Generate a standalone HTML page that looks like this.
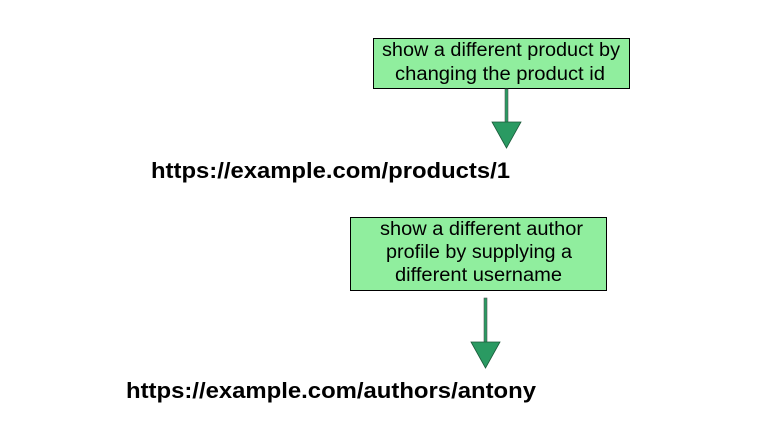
<!DOCTYPE html>
<html><head><style>
body{margin:0;width:773px;height:427px;background:#fff;overflow:hidden}
svg{display:block}
text{font-family:"Liberation Sans",sans-serif}
</style></head><body>
<svg width="773" height="427" viewBox="0 0 773 427">
<rect x="373.5" y="38.5" width="256" height="50" fill="#90ee9e" stroke="#000" stroke-width="1"/>
<text x="382" y="56" font-size="19" textLength="238" lengthAdjust="spacingAndGlyphs">show a different product by</text>
<text x="395" y="80" font-size="19" textLength="210" lengthAdjust="spacingAndGlyphs">changing the product id</text>
<rect x="505" y="89" width="3" height="34" fill="#2a9a62" stroke="#555" stroke-width="0.6"/>
<polygon points="492,122 521,122 506.5,148" fill="#2a9a62" stroke="#1a5a3a" stroke-width="0.8"/>
<text x="151" y="178" font-size="22" font-weight="bold" textLength="359" lengthAdjust="spacingAndGlyphs">https://example.com/products/1</text>
<rect x="350.5" y="217.5" width="256" height="73" fill="#90ee9e" stroke="#000" stroke-width="1"/>
<text x="380" y="235" font-size="19" textLength="203" lengthAdjust="spacingAndGlyphs">show a different author</text>
<text x="386" y="258" font-size="19" textLength="186" lengthAdjust="spacingAndGlyphs">profile by supplying a</text>
<text x="395" y="281" font-size="19" textLength="167" lengthAdjust="spacingAndGlyphs">different username</text>
<rect x="484" y="298" width="3" height="45" fill="#2a9a62" stroke="#555" stroke-width="0.6"/>
<polygon points="471,342 500,342 485.5,368" fill="#2a9a62" stroke="#1a5a3a" stroke-width="0.8"/>
<text x="126" y="398" font-size="22" font-weight="bold" textLength="410" lengthAdjust="spacingAndGlyphs">https://example.com/authors/antony</text>
</svg>
</body></html>
